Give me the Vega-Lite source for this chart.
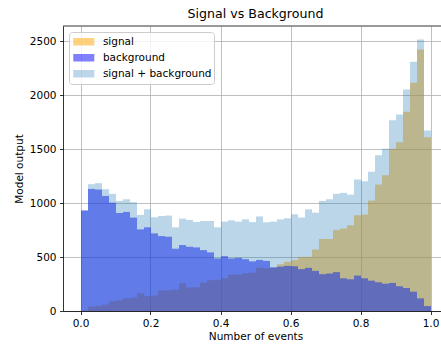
{
  "$schema": "https://vega.github.io/schema/vega-lite/v6.json",
  "autosize": {"type": "none"},
  "padding": {"left": 63, "top": 26, "right": 0, "bottom": 34},
  "width": 378,
  "height": 285,
  "title": {"text": "Signal vs Background", "fontSize": 12.6, "fontWeight": "normal", "font": "DejaVu Sans", "color": "#000000", "anchor": "middle", "dx": 3.5, "offset": 5},
  "layer": [
    {
      "data": {"values": [
        {"series":"signal","start":0.00,"end":0.02,"count":5},
        {"series":"signal","start":0.02,"end":0.04,"count":40},
        {"series":"signal","start":0.04,"end":0.06,"count":50},
        {"series":"signal","start":0.06,"end":0.08,"count":60},
        {"series":"signal","start":0.08,"end":0.10,"count":90},
        {"series":"signal","start":0.10,"end":0.12,"count":100},
        {"series":"signal","start":0.12,"end":0.14,"count":118},
        {"series":"signal","start":0.14,"end":0.16,"count":125},
        {"series":"signal","start":0.16,"end":0.18,"count":165},
        {"series":"signal","start":0.18,"end":0.20,"count":138},
        {"series":"signal","start":0.20,"end":0.22,"count":145},
        {"series":"signal","start":0.22,"end":0.24,"count":190},
        {"series":"signal","start":0.24,"end":0.26,"count":192},
        {"series":"signal","start":0.26,"end":0.28,"count":198},
        {"series":"signal","start":0.28,"end":0.30,"count":258},
        {"series":"signal","start":0.30,"end":0.32,"count":218},
        {"series":"signal","start":0.32,"end":0.34,"count":220},
        {"series":"signal","start":0.34,"end":0.36,"count":264},
        {"series":"signal","start":0.36,"end":0.38,"count":285},
        {"series":"signal","start":0.38,"end":0.40,"count":290},
        {"series":"signal","start":0.40,"end":0.42,"count":305},
        {"series":"signal","start":0.42,"end":0.44,"count":338},
        {"series":"signal","start":0.44,"end":0.46,"count":338},
        {"series":"signal","start":0.46,"end":0.48,"count":350},
        {"series":"signal","start":0.48,"end":0.50,"count":356},
        {"series":"signal","start":0.50,"end":0.52,"count":402},
        {"series":"signal","start":0.52,"end":0.54,"count":396},
        {"series":"signal","start":0.54,"end":0.56,"count":400},
        {"series":"signal","start":0.56,"end":0.58,"count":433},
        {"series":"signal","start":0.58,"end":0.60,"count":456},
        {"series":"signal","start":0.60,"end":0.62,"count":471},
        {"series":"signal","start":0.62,"end":0.64,"count":502},
        {"series":"signal","start":0.64,"end":0.66,"count":502},
        {"series":"signal","start":0.66,"end":0.68,"count":570},
        {"series":"signal","start":0.68,"end":0.70,"count":667},
        {"series":"signal","start":0.70,"end":0.72,"count":667},
        {"series":"signal","start":0.72,"end":0.74,"count":750},
        {"series":"signal","start":0.74,"end":0.76,"count":763},
        {"series":"signal","start":0.76,"end":0.78,"count":794},
        {"series":"signal","start":0.78,"end":0.80,"count":887},
        {"series":"signal","start":0.80,"end":0.82,"count":893},
        {"series":"signal","start":0.82,"end":0.84,"count":1023},
        {"series":"signal","start":0.84,"end":0.86,"count":1171},
        {"series":"signal","start":0.86,"end":0.88,"count":1258},
        {"series":"signal","start":0.88,"end":0.90,"count":1502},
        {"series":"signal","start":0.90,"end":0.92,"count":1564},
        {"series":"signal","start":0.92,"end":0.94,"count":1845},
        {"series":"signal","start":0.94,"end":0.96,"count":2114},
        {"series":"signal","start":0.96,"end":0.98,"count":2423},
        {"series":"signal","start":0.98,"end":1.00,"count":1610},
        {"series":"background","start":0.00,"end":0.02,"count":930},
        {"series":"background","start":0.02,"end":0.04,"count":1131},
        {"series":"background","start":0.04,"end":0.06,"count":1125},
        {"series":"background","start":0.06,"end":0.08,"count":1066},
        {"series":"background","start":0.08,"end":0.10,"count":1004},
        {"series":"background","start":0.10,"end":0.12,"count":908},
        {"series":"background","start":0.12,"end":0.14,"count":918},
        {"series":"background","start":0.14,"end":0.16,"count":865},
        {"series":"background","start":0.16,"end":0.18,"count":756},
        {"series":"background","start":0.18,"end":0.20,"count":775},
        {"series":"background","start":0.20,"end":0.22,"count":719},
        {"series":"background","start":0.22,"end":0.24,"count":694},
        {"series":"background","start":0.24,"end":0.26,"count":688},
        {"series":"background","start":0.26,"end":0.28,"count":577},
        {"series":"background","start":0.28,"end":0.30,"count":611},
        {"series":"background","start":0.30,"end":0.32,"count":595},
        {"series":"background","start":0.32,"end":0.34,"count":589},
        {"series":"background","start":0.34,"end":0.36,"count":564},
        {"series":"background","start":0.36,"end":0.38,"count":543},
        {"series":"background","start":0.38,"end":0.40,"count":487},
        {"series":"background","start":0.40,"end":0.42,"count":508},
        {"series":"background","start":0.42,"end":0.44,"count":487},
        {"series":"background","start":0.44,"end":0.46,"count":493},
        {"series":"background","start":0.46,"end":0.48,"count":480},
        {"series":"background","start":0.48,"end":0.50,"count":460},
        {"series":"background","start":0.50,"end":0.52,"count":473},
        {"series":"background","start":0.52,"end":0.54,"count":464},
        {"series":"background","start":0.54,"end":0.56,"count":405},
        {"series":"background","start":0.56,"end":0.58,"count":411},
        {"series":"background","start":0.58,"end":0.60,"count":418},
        {"series":"background","start":0.60,"end":0.62,"count":415},
        {"series":"background","start":0.62,"end":0.64,"count":388},
        {"series":"background","start":0.64,"end":0.66,"count":400},
        {"series":"background","start":0.66,"end":0.68,"count":372},
        {"series":"background","start":0.68,"end":0.70,"count":341},
        {"series":"background","start":0.70,"end":0.72,"count":347},
        {"series":"background","start":0.72,"end":0.74,"count":360},
        {"series":"background","start":0.74,"end":0.76,"count":303},
        {"series":"background","start":0.76,"end":0.78,"count":294},
        {"series":"background","start":0.78,"end":0.80,"count":328},
        {"series":"background","start":0.80,"end":0.82,"count":303},
        {"series":"background","start":0.82,"end":0.84,"count":281},
        {"series":"background","start":0.84,"end":0.86,"count":266},
        {"series":"background","start":0.86,"end":0.88,"count":253},
        {"series":"background","start":0.88,"end":0.90,"count":260},
        {"series":"background","start":0.90,"end":0.92,"count":229},
        {"series":"background","start":0.92,"end":0.94,"count":213},
        {"series":"background","start":0.94,"end":0.96,"count":179},
        {"series":"background","start":0.96,"end":0.98,"count":117},
        {"series":"background","start":0.98,"end":1.00,"count":46},
        {"series":"signal + background","start":0.00,"end":0.02,"count":935},
        {"series":"signal + background","start":0.02,"end":0.04,"count":1175},
        {"series":"signal + background","start":0.04,"end":0.06,"count":1184},
        {"series":"signal + background","start":0.06,"end":0.08,"count":1128},
        {"series":"signal + background","start":0.08,"end":0.10,"count":1085},
        {"series":"signal + background","start":0.10,"end":0.12,"count":1020},
        {"series":"signal + background","start":0.12,"end":0.14,"count":1035},
        {"series":"signal + background","start":0.14,"end":0.16,"count":1008},
        {"series":"signal + background","start":0.16,"end":0.18,"count":890},
        {"series":"signal + background","start":0.18,"end":0.20,"count":942},
        {"series":"signal + background","start":0.20,"end":0.22,"count":868},
        {"series":"signal + background","start":0.22,"end":0.24,"count":880},
        {"series":"signal + background","start":0.24,"end":0.26,"count":884},
        {"series":"signal + background","start":0.26,"end":0.28,"count":775},
        {"series":"signal + background","start":0.28,"end":0.30,"count":856},
        {"series":"signal + background","start":0.30,"end":0.32,"count":843},
        {"series":"signal + background","start":0.32,"end":0.34,"count":825},
        {"series":"signal + background","start":0.34,"end":0.36,"count":834},
        {"series":"signal + background","start":0.36,"end":0.38,"count":834},
        {"series":"signal + background","start":0.38,"end":0.40,"count":775},
        {"series":"signal + background","start":0.40,"end":0.42,"count":828},
        {"series":"signal + background","start":0.42,"end":0.44,"count":840},
        {"series":"signal + background","start":0.44,"end":0.46,"count":828},
        {"series":"signal + background","start":0.46,"end":0.48,"count":849},
        {"series":"signal + background","start":0.48,"end":0.50,"count":823},
        {"series":"signal + background","start":0.50,"end":0.52,"count":876},
        {"series":"signal + background","start":0.52,"end":0.54,"count":822},
        {"series":"signal + background","start":0.54,"end":0.56,"count":828},
        {"series":"signal + background","start":0.56,"end":0.58,"count":849},
        {"series":"signal + background","start":0.58,"end":0.60,"count":859},
        {"series":"signal + background","start":0.60,"end":0.62,"count":896},
        {"series":"signal + background","start":0.62,"end":0.64,"count":865},
        {"series":"signal + background","start":0.64,"end":0.66,"count":942},
        {"series":"signal + background","start":0.66,"end":0.68,"count":911},
        {"series":"signal + background","start":0.68,"end":0.70,"count":1020},
        {"series":"signal + background","start":0.70,"end":0.72,"count":1035},
        {"series":"signal + background","start":0.72,"end":0.74,"count":1085},
        {"series":"signal + background","start":0.74,"end":0.76,"count":1094},
        {"series":"signal + background","start":0.76,"end":0.78,"count":1078},
        {"series":"signal + background","start":0.78,"end":0.80,"count":1217},
        {"series":"signal + background","start":0.80,"end":0.82,"count":1202},
        {"series":"signal + background","start":0.82,"end":0.84,"count":1289},
        {"series":"signal + background","start":0.84,"end":0.86,"count":1443},
        {"series":"signal + background","start":0.86,"end":0.88,"count":1502},
        {"series":"signal + background","start":0.88,"end":0.90,"count":1767},
        {"series":"signal + background","start":0.90,"end":0.92,"count":1820},
        {"series":"signal + background","start":0.92,"end":0.94,"count":2052},
        {"series":"signal + background","start":0.94,"end":0.96,"count":2308},
        {"series":"signal + background","start":0.96,"end":0.98,"count":2515},
        {"series":"signal + background","start":0.98,"end":1.00,"count":1672}
      ]},
      "mark": {"type": "bar", "strokeWidth": 0, "orient": "vertical", "binSpacing": 0},
      "encoding": {
        "x": {"field": "start", "type": "quantitative", "bin": "binned", "scale": {"domain": [-0.05, 1.03], "nice": false, "zero": false},
              "axis": {"title": "Number of events", "values": [0, 0.2, 0.4, 0.6, 0.8, 1.0], "format": ".1f", "labelFlush": false, "labelOverlap": false, "titleX": 192.5, "titlePadding": 3}},
        "x2": {"field": "end"},
        "y": {"field": "count", "type": "quantitative", "stack": null, "scale": {"domain": [0, 2640], "nice": false},
              "axis": {"title": "Model output", "values": [0, 500, 1000, 1500, 2000, 2500], "format": "d", "titlePadding": 5}},
        "color": {"field": "series", "type": "nominal",
                  "scale": {"domain": ["signal", "background", "signal + background"], "range": ["#ffa500", "#0000ff", "#1f77b4"]},
                  "legend": {"title": null}},
        "opacity": {"field": "series", "type": "nominal",
                    "scale": {"type": "ordinal", "domain": ["signal", "background", "signal + background"], "range": [0.5, 0.5, 0.3]},
                    "legend": {"title": null}}
      }
    },
    {
      "data": {"values": [{}]},
      "mark": {"type": "rule", "color": "#000000", "strokeWidth": 0.8},
      "encoding": {"y": {"datum": 2640}}
    }
  ],
  "config": {
    "font": "DejaVu Sans",
    "view": {"stroke": null},
    "axis": {"labelFont": "DejaVu Sans", "titleFont": "DejaVu Sans", "labelFontSize": 10.5, "titleFontSize": 10.5, "titleFontWeight": "normal",
             "labelColor": "#000000", "titleColor": "#000000", "tickColor": "#000000", "domainColor": "#000000", "domainWidth": 0.8,
             "tickWidth": 0.8, "tickSize": 3.5, "labelPadding": 3.5, "grid": true, "gridColor": "#b0b0b0", "gridWidth": 0.8, "zindex": 1},
    "legend": {"orient": "none", "legendX": 6, "legendY": 6, "fillColor": "rgba(255,255,255,0.8)", "strokeColor": "#cccccc", "cornerRadius": 3,
               "padding": 2, "clipHeight": 15.5, "rowPadding": 0, "symbolType": "M-1,-0.35H1V0.35H-1Z", "symbolSize": 441, "symbolStrokeWidth": 0,
               "symbolOffset": 2.3, "labelOffset": 8.6, "labelFont": "DejaVu Sans", "labelFontSize": 10.5, "labelColor": "#000000"}
  }
}
